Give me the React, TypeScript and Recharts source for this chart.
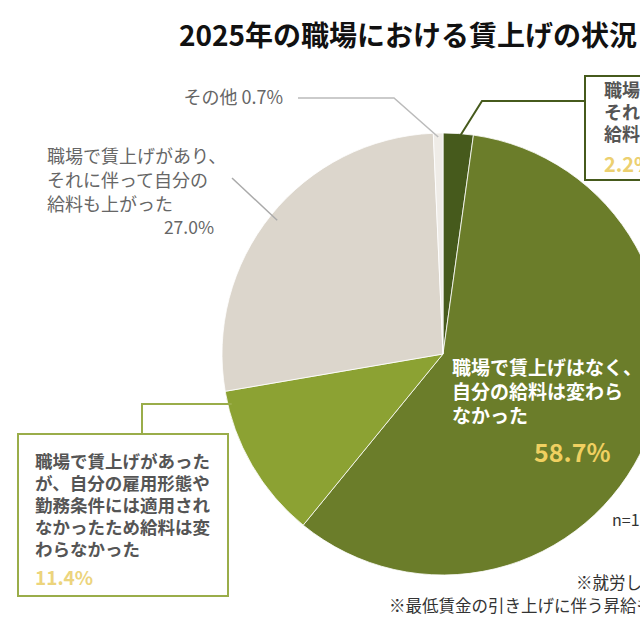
import React from 'react';
import { PieChart, Pie, Cell } from 'recharts';

const sliceNames = [
  '職場で賃上げはなかったが、それとは別に給料が上がった',
  '職場で賃上げはなく、自分の給料は変わらなかった',
  '職場で賃上げがあったが、自分の雇用形態や勤務条件には適用されなかったため給料は変わらなかった',
  '職場で賃上げがあり、それに伴って自分の給料も上がった',
  'その他',
];
const sliceValues = [2.2, 58.7, 11.4, 27.0, 0.7];
const sliceColors = ['#465a1c', '#6b7d2a', '#8ca233', '#dcd6cc', '#efece7'];

const boxLinesDark = ['職場で賃上げはなく、', 'それとは別に自分の', '給料が上がった'];
const innerLines = ['職場で賃上げはなく、', '自分の給料は変わら', 'なかった'];
const greenBoxLines = ['職場で賃上げがあった', 'が、自分の雇用形態や', '勤務条件には適用され', 'なかったため給料は変', 'わらなかった'];
const beigeLines = ['職場で賃上げがあり、', 'それに伴って自分の', '給料も上がった'];

const titleText = '2025年の職場における賃上げの状況';
const sampleText = 'n=1,000';
const notes = ['※就労している人が対象', '※最低賃金の引き上げに伴う昇給も含む'];

const data = sliceNames.map((name, i) => ({ name, value: sliceValues[i] }));

const FONT = '"Noto Sans CJK JP", "Noto Sans", sans-serif';
const RAD = Math.PI / 180;

const renderLabel = (p: any) => {
  const { cx, cy, midAngle, outerRadius, index, value } = p;
  const pt = (r: number, a: number) => [cx + r * Math.cos(-a * RAD), cy + r * Math.sin(-a * RAD)];
  const pct = `${Number(value).toFixed(1)}%`;
  if (index === 0) {
    const [ex, ey] = pt(outerRadius - 6, midAngle);
    return (
      <g key="l0">
        <polyline points={`${ex},${ey} 482,101 585,101`} fill="none" stroke="#465a1c" strokeWidth={2} />
        <rect x={585} y={76} width={100} height={104} fill="#fff" stroke="#465a1c" strokeWidth={2} />
        {boxLinesDark.map((t, i) => (
          <text key={i} x={604} y={97 + i * 22} fontSize={18} fontWeight={700} fill="#555" fontFamily={FONT}>{t}</text>
        ))}
        <text x={604} y={172} fontSize={20} fontWeight={700} fill="#ecd070" fontFamily={FONT}>{pct}</text>
      </g>
    );
  }
  if (index === 1) {
    return (
      <g key="l1">
        {innerLines.map((t, i) => (
          <text key={i} x={452} y={375 + i * 24} fontSize={19} fontWeight={700} fill="#fff" fontFamily={FONT}>{t}</text>
        ))}
        <text x={534} y={462} fontSize={25} fontWeight={700} fill="#f0d060" fontFamily={FONT}>{pct}</text>
      </g>
    );
  }
  if (index === 2) {
    const yy = 404;
    const ex = cx - Math.sqrt(outerRadius * outerRadius - (yy - cy) * (yy - cy)) + 4;
    return (
      <g key="l2">
        <polyline points={`142,434 142,${yy} ${ex},${yy}`} fill="none" stroke="#9aad4a" strokeWidth={2} />
        <rect x={18} y={434} width={210} height={162} fill="#fff" stroke="#9aad4a" strokeWidth={2} />
        {greenBoxLines.map((t, i) => (
          <text key={i} x={35} y={468 + i * 22} fontSize={17.5} fontWeight={700} fill="#555" fontFamily={FONT}>{t}</text>
        ))}
        <text x={35} y={585} fontSize={19} fontWeight={700} fill="#ecd47c" fontFamily={FONT}>{pct}</text>
      </g>
    );
  }
  if (index === 3) {
    const [ex, ey] = pt(outerRadius - 8, midAngle);
    return (
      <g key="l3">
        <line x1={232} y1={178} x2={ex} y2={ey} stroke="#aaa" strokeWidth={1.5} />
        {beigeLines.map((t, i) => (
          <text key={i} x={47} y={163 + i * 24} fontSize={18} fill="#666" fontFamily={FONT}>{t}</text>
        ))}
        <text x={214} y={234} textAnchor="end" fontSize={17.5} fill="#666" fontFamily={FONT}>{pct}</text>
      </g>
    );
  }
  const [ex, ey] = pt(outerRadius - 4, midAngle);
  return (
    <g key="l4">
      <polyline points={`298,98 394,98 ${ex},${ey}`} fill="none" stroke="#bbb" strokeWidth={1.5} />
      <text x={283} y={104} textAnchor="end" fontSize={18} fill="#666" fontFamily={FONT}>{`その他 ${pct}`}</text>
    </g>
  );
};

export default function App() {
  return (
    <div style={{ position: 'absolute', left: 0, top: 0, width: 640, height: 640, overflow: 'hidden', background: '#fff' }}>
      <PieChart width={640} height={640} margin={{ top: 0, right: 0, bottom: 0, left: 0 }}>
        <Pie
          data={data}
          dataKey="value"
          nameKey="name"
          cx={443}
          cy={354}
          outerRadius={221}
          startAngle={90}
          endAngle={-270}
          stroke="#fff"
          strokeWidth={0.8}
          label={renderLabel}
          labelLine={false}
          isAnimationActive={false}
        >
          {data.map((d, i) => (
            <Cell key={d.name} fill={sliceColors[i]} />
          ))}
        </Pie>
      </PieChart>
      <svg width={640} height={640} style={{ position: 'absolute', left: 0, top: 0, pointerEvents: 'none' }}>
        <text x={179} y={46} fontSize={28} fontWeight={700} fill="#111" fontFamily={FONT}>{titleText}</text>
        <text x={612} y={526} fontSize={16} fill="#333" fontFamily={FONT}>{sampleText}</text>
        <text x={576} y={589} fontSize={16.5} fill="#333" fontFamily={FONT}>{notes[0]}</text>
        <text x={389} y={612} fontSize={16.5} fill="#333" fontFamily={FONT}>{notes[1]}</text>
      </svg>
    </div>
  );
}
